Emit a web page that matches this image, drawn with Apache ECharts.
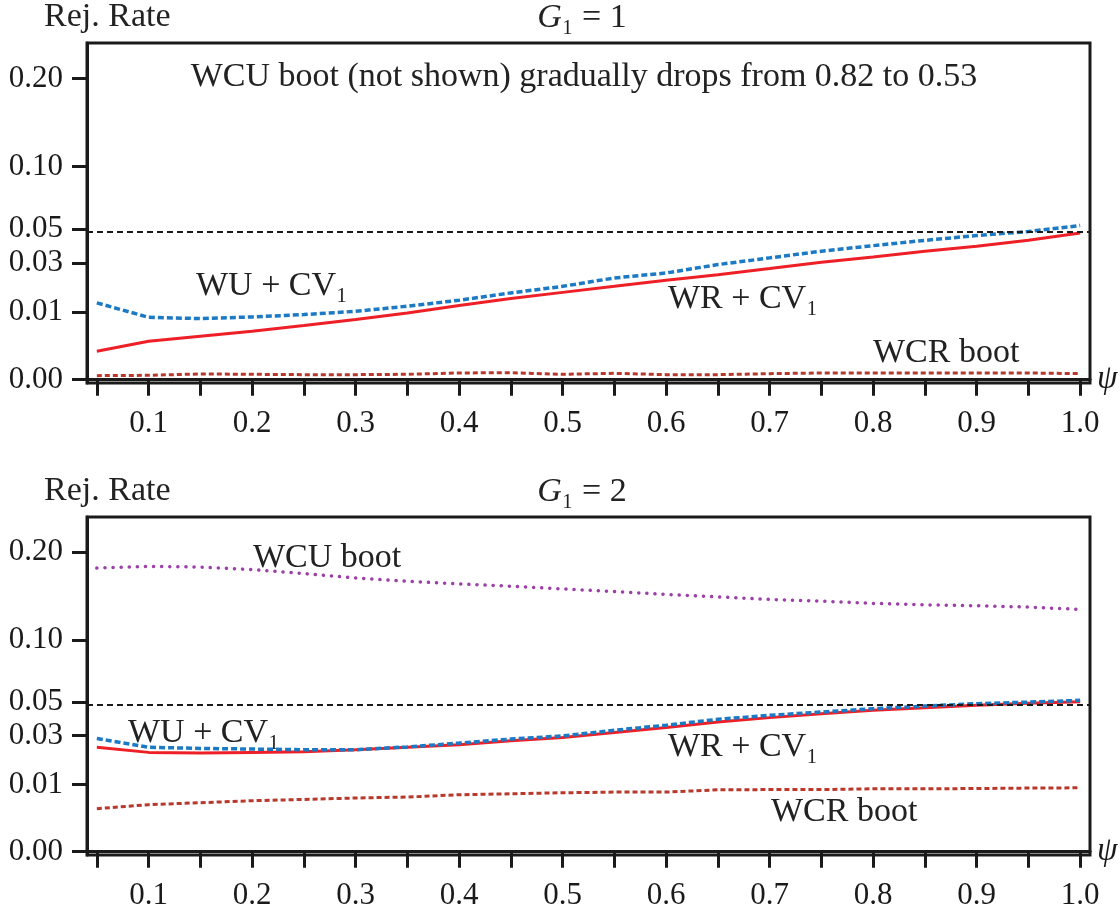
<!DOCTYPE html>
<html>
<head>
<meta charset="utf-8">
<title>Rej. Rate vs psi</title>
<script src="https://cdn.jsdelivr.net/npm/echarts@6/dist/echarts.min.js"></script>
<style>
  html, body { margin: 0; padding: 0; background: #fff; }
  #main { width: 1120px; height: 911px; }
</style>
</head>
<body>
<div id="main"></div>
<script>
// psi grid (x axis)
const psi = [0.05, 0.10, 0.15, 0.20, 0.25, 0.30, 0.35, 0.40, 0.45, 0.50,
             0.55, 0.60, 0.65, 0.70, 0.75, 0.80, 0.85, 0.90, 0.95, 1.00];
const xTicks = psi;
const xLabels = [0.1, 0.2, 0.3, 0.4, 0.5, 0.6, 0.7, 0.8, 0.9, 1.0];
const yLabels = [0.00, 0.01, 0.03, 0.05, 0.10, 0.20];
const nominal = 0.05;

// G1 = 1
const wr1 = [0.00177, 0.00324, 0.00414, 0.00515, 0.00644, 0.00795, 0.00982, 0.0121, 0.0145, 0.0168,
             0.0192, 0.0218, 0.0243, 0.0272, 0.0304, 0.0332, 0.0364, 0.0392, 0.0428, 0.0475];
const wu1 = [0.0130, 0.00857, 0.00822, 0.00868, 0.00933, 0.0103, 0.0119, 0.0139, 0.0166, 0.0192,
             0.0228, 0.0251, 0.0292, 0.0327, 0.0364, 0.0396, 0.0428, 0.0458, 0.0484, 0.0524];
const wcr1 = [0.000035, 0.000041, 0.000071, 0.000063, 0.000055, 0.000055, 0.000063, 0.000098, 0.000107, 0.000063,
              0.000088, 0.000055, 0.000055, 0.000079, 0.000098, 0.000098, 0.000098, 0.000098, 0.000098, 0.000079];

// G1 = 2
const wcu2 = [0.1795, 0.1817, 0.1808, 0.1776, 0.1726, 0.1672, 0.1632, 0.1600, 0.1573, 0.1541,
              0.1510, 0.1477, 0.1449, 0.1420, 0.1401, 0.1376, 0.1360, 0.1350, 0.1335, 0.1310];
const wr2 = [0.0243, 0.0220, 0.0217, 0.0220, 0.0223, 0.0232, 0.0243, 0.0255, 0.0274, 0.0291,
             0.0317, 0.0344, 0.0375, 0.0401, 0.0425, 0.0446, 0.0463, 0.0478, 0.0491, 0.0502];
const wu2 = [0.0286, 0.0243, 0.0238, 0.0235, 0.0232, 0.0232, 0.0245, 0.0263, 0.0283, 0.0299,
             0.0329, 0.0357, 0.0391, 0.0415, 0.0435, 0.0456, 0.0473, 0.0489, 0.0499, 0.0511];
const wcr2 = [0.00413, 0.00493, 0.00535, 0.00579, 0.00609, 0.00642, 0.00666, 0.00723, 0.00748, 0.00774,
              0.00792, 0.00792, 0.00854, 0.0086, 0.0086, 0.00882, 0.0088, 0.0089, 0.00902, 0.0091];

const FONT = '"Liberation Serif", "DejaVu Serif", serif';
const INK = '#1a1a1a';
const RED = '#ee1f26';
const BLUE = '#1c79c4';
const DKRED = '#b8392c';
const PURPLE = '#9d3fa8';
const TXT = 34;

// square-root scale for the rate axis
const sq = v => Math.sqrt(v);
const pts = arr => arr.map((v, i) => [psi[i], sq(v)]);

const chart = echarts.init(document.getElementById('main'), null, { renderer: 'canvas' });

function gridOpt(top) {
  return { left: 87, top: top, width: 1003, height: 340, show: true, borderColor: INK, borderWidth: 3 };
}
function xAxisOpt(idx) {
  return {
    type: 'value', gridIndex: idx, min: 0.0405, max: 1.0095,
    name: 'ψ', nameLocation: 'end', nameGap: 7,
    nameTextStyle: { fontFamily: FONT, fontStyle: 'italic', fontSize: 33, color: INK },
    axisLine: { show: true, lineStyle: { color: INK, width: 3 } },
    axisTick: { show: true, length: 16, lineStyle: { color: INK, width: 3 }, customValues: xTicks },
    axisLabel: { customValues: xLabels, formatter: v => v.toFixed(1), margin: 25,
                 fontFamily: FONT, fontSize: 31, color: INK },
    splitLine: { show: false }
  };
}
function yAxisOpt(idx) {
  return {
    type: 'value', gridIndex: idx, min: -0.005, max: 0.5,
    axisLine: { show: true, lineStyle: { color: INK, width: 3 } },
    axisTick: { show: true, length: 15, lineStyle: { color: INK, width: 3 }, customValues: yLabels.map(sq) },
    axisLabel: { customValues: yLabels.map(sq), formatter: v => (v * v).toFixed(2), margin: 24,
                 fontFamily: FONT, fontSize: 31, color: INK },
    splitLine: { show: false }
  };
}
function line(name, data, idx, color, width, type, extra) {
  return Object.assign({
    name: name, type: 'line', xAxisIndex: idx, yAxisIndex: idx,
    data: pts(data), showSymbol: false, symbol: 'none', smooth: false, silent: true, animation: false,
    lineStyle: { color: color, width: width, type: type }
  }, extra || {});
}
function refLine() {
  return {
    silent: true, symbol: 'none', label: { show: false },
    lineStyle: { color: INK, width: 1.8, type: [6, 4] },
    data: [{ yAxis: sq(nominal) }]
  };
}
function txt(text, x, y, align) {
  return {
    type: 'text', x: x, y: y, silent: true,
    style: { text: text, fontFamily: FONT, fontSize: TXT, fill: '#222',
             align: align || 'left', verticalAlign: 'middle' }
  };
}
function gtxt(n, x, y) {
  return {
    type: 'text', x: x, y: y, silent: true,
    style: {
      text: '{g|G}{n|₁ = ' + n + '}', align: 'center', verticalAlign: 'middle',
      rich: {
        g: { fontFamily: FONT, fontStyle: 'italic', fontSize: TXT, fill: '#222' },
        n: { fontFamily: FONT, fontSize: TXT, fill: '#222' }
      }
    }
  };
}

chart.setOption({
  backgroundColor: '#fff',
  animation: false,
  grid: [gridOpt(43), gridOpt(517)],
  xAxis: [xAxisOpt(0), xAxisOpt(1)],
  yAxis: [yAxisOpt(0), yAxisOpt(1)],
  series: [
    line('WCR boot', wcr1, 0, DKRED, 3, [5, 3]),
    line('WR + CV1', wr1, 0, RED, 3, 'solid', { markLine: refLine() }),
    line('WU + CV1', wu1, 0, BLUE, 3.5, [6, 3]),
    line('WCU boot', wcu2, 1, PURPLE, 3.5, [0.1, 8], { lineStyle: { color: PURPLE, width: 3.5, type: [0.1, 8], cap: 'round' } }),
    line('WCR boot', wcr2, 1, DKRED, 3, [5, 3]),
    line('WR + CV1', wr2, 1, RED, 3, 'solid', { markLine: refLine() }),
    line('WU + CV1', wu2, 1, BLUE, 3.5, [6, 3])
  ],
  graphic: [
    txt('Rej. Rate', 44, 17),
    gtxt(1, 582, 18),
    txt('WCU boot (not shown) gradually drops from 0.82 to 0.53', 584, 77, 'center'),
    txt('WU + CV₁', 196, 286),
    txt('WR + CV₁', 668, 299),
    txt('WCR boot', 873, 353),
    txt('Rej. Rate', 44, 491),
    gtxt(2, 582, 492),
    txt('WCU boot', 253, 558),
    txt('WU + CV₁', 128, 733),
    txt('WR + CV₁', 668, 747),
    txt('WCR boot', 771, 812)
  ]
});
</script>
</body>
</html>
